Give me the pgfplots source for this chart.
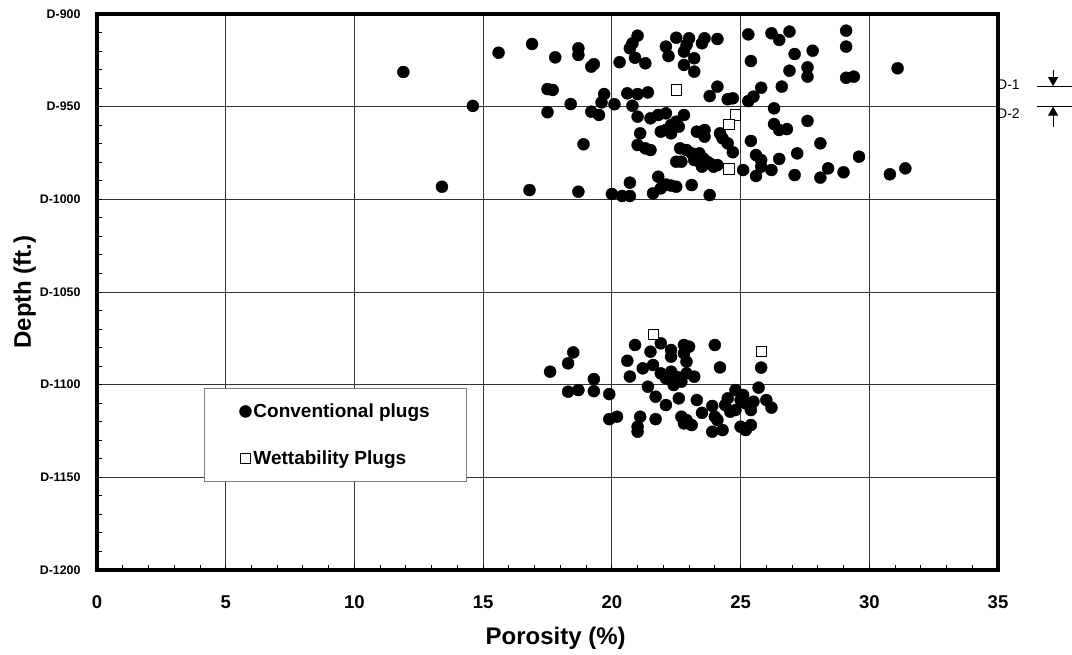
\documentclass[border=0pt]{standalone}
\usepackage{fontspec}
\setmainfont{Liberation Sans}
\usepackage{pgfplots}
\usepackage{pgfplotstable}
\pgfplotsset{compat=1.18}
\usetikzlibrary{arrows.meta}

\pgfplotstableread{
x y
11.9 931.3
14.6 949.6
13.4 993.2
15.6 920.9
16.9 916.2
17.8 923.4
17.5 940.5
17.7 941.0
17.5 953.0
16.8 995.0
18.7 918.5
18.7 922.1
19.3 927.1
19.2 928.4
20.3 926.0
21.0 911.7
20.8 915.8
20.7 918.5
20.9 923.6
21.3 926.6
18.4 948.6
19.7 943.2
19.6 947.7
20.1 948.7
19.2 952.7
19.5 954.5
20.6 942.8
21.0 943.2
21.4 942.3
20.8 949.5
21.0 955.4
21.1 964.4
21.0 970.7
21.3 972.5
18.9 970.3
18.7 995.9
20.0 997.1
20.7 991.0
20.4 998.2
20.7 998.2
22.5 912.8
23.0 913.1
22.9 916.7
22.8 920.3
23.6 913.1
23.5 915.8
24.1 913.5
22.1 917.6
22.2 922.7
23.2 923.9
23.2 931.1
22.8 927.5
23.8 944.3
24.1 939.2
24.5 946.0
21.5 956.3
21.8 954.5
22.1 953.6
21.9 963.5
22.1 962.6
22.3 959.9
22.3 964.4
22.6 960.8
22.5 958.1
22.8 954.5
23.3 963.5
23.6 962.6
23.6 966.2
24.2 964.4
24.3 967.1
24.5 969.8
21.5 973.4
22.65 972.5
22.9 973.4
23.1 975.2
23.3 977.0
23.4 975.2
23.55 977.9
23.7 979.7
23.8 980.6
23.95 982.4
24.1 981.5
23.4 979.7
23.5 982.4
23.2 978.8
22.5 979.7
22.7 979.7
21.8 987.8
21.9 994.1
22.1 992.0
22.3 992.6
22.5 993.2
23.1 992.3
23.8 997.7
21.6 996.8
25.3 911.0
26.2 910.4
26.5 914.0
26.9 909.5
29.1 909.0
29.1 917.6
27.1 921.6
27.8 919.8
25.4 925.4
26.9 930.6
27.6 928.8
27.6 933.8
29.1 934.4
29.4 933.8
31.1 929.3
25.8 939.8
26.6 939.2
25.3 947.0
25.5 944.6
24.7 945.5
26.3 950.9
26.3 959.4
26.5 962.6
26.8 962.1
27.6 957.7
25.4 968.5
28.1 969.8
24.7 974.6
25.6 976.1
25.8 978.8
25.8 982.4
26.5 978.2
27.2 975.2
29.6 977.0
25.1 984.2
25.6 987.4
26.2 984.2
27.1 986.9
28.1 988.3
28.4 983.3
29.0 985.4
30.8 986.5
31.4 983.3
17.6 1093.0
18.3 1088.5
18.5 1082.6
19.3 1097.0
18.3 1103.8
18.7 1102.9
19.3 1103.5
19.9 1105.1
19.9 1118.6
20.2 1117.3
21.1 1117.3
21.0 1122.7
21.0 1125.4
21.7 1118.6
20.6 1087.1
20.9 1078.6
20.7 1095.6
21.2 1091.2
21.5 1082.2
21.4 1101.1
21.7 1106.5
21.9 1077.7
22.3 1081.3
22.3 1084.9
22.8 1078.6
23.0 1079.5
22.8 1083.1
22.9 1087.6
24.0 1078.6
24.2 1090.7
21.6 1089.4
21.9 1093.9
22.3 1093.0
22.5 1095.7
22.9 1093.9
23.2 1095.7
22.7 1098.4
22.4 1100.2
22.1 1096.6
22.1 1111.0
22.6 1107.4
23.3 1108.3
22.7 1117.3
22.9 1119.1
23.1 1121.8
22.8 1120.9
23.5 1115.2
23.9 1125.4
24.3 1124.5
24.1 1119.1
24.0 1117.3
23.9 1111.5
24.4 1111.0
24.6 1114.6
24.5 1107.4
24.8 1102.9
25.0 1108.3
24.8 1113.7
25.1 1105.6
25.2 1110.1
25.4 1113.7
25.5 1109.2
25.0 1122.7
25.2 1124.5
25.4 1121.8
25.7 1101.6
25.8 1090.8
26.0 1108.3
26.2 1112.4
}\conv

\pgfplotstableread{
x y
22.5 941.0
24.8 954.5
24.55 959.5
24.55 983.6
21.6 1072.9
25.8 1082.2
}\wett

\begin{document}
\begin{tikzpicture}[x=1pt,y=1pt]
\begin{axis}[
  at={(0,0)}, anchor=south west,
  width=901pt, height=556pt, scale only axis,
  xmin=0, xmax=35, ymin=900, ymax=1200, y dir=reverse,
  xtick={0,5,10,15,20,25,30,35},
  xticklabels={0,5,10,15,20,25,30,35},
  ytick={900,950,1000,1050,1100,1150,1200},
  yticklabels={D-900,D-950,D-1000,D-1050,D-1100,D-1150,D-1200},
  minor x tick num=4, minor y tick num=4,
  tick align=inside, xtick pos=bottom, ytick pos=left,
  major tick length=5pt, minor tick length=5pt,
  every tick/.style={black, line width=0.9pt},
  grid=major,
  major grid style={black!80, line width=0.8pt},
  axis line style={line width=4pt, line join=miter},
  xticklabel style={font=\fontsize{18.5}{20}\selectfont\bfseries, yshift=-22pt},
  yticklabel style={font=\fontsize{12.4}{14}\selectfont\bfseries, xshift=-13pt},
  xlabel={Porosity (\%)}, ylabel={Depth (ft.)},
  every axis x label/.style={at={(axis description cs:0.509,-0.1237)}, anchor=center,
    font=\fontsize{24}{28}\selectfont\bfseries},
  every axis y label/.style={at={(axis description cs:-0.0802,0.5)}, anchor=center, rotate=90,
    font=\fontsize{24}{28}\selectfont\bfseries},
  clip=false, set layers,
  legend style={at={(axis cs:9.27,1127.2)}, anchor=center, draw=black!50,
    line width=1.2pt, fill=white, inner xsep=35pt, inner ysep=13pt,
    row sep=28pt, font=\fontsize{19}{22}\selectfont\bfseries,
    /tikz/every even column/.style={column sep=0pt}},
  legend cell align=left,
  legend image code/.code={\draw[#1, mark repeat=1] plot coordinates {(0pt,0pt)};},
  legend entries={Conventional plugs, Wettability Plugs},
]
\addplot[only marks, mark=*, mark size=6.0pt,
  mark options={fill=black, draw=black, line width=0.4pt}] table {\conv};
\addplot[only marks, mark=square*, mark size=5.1pt,
  mark options={fill=white, draw=black, line width=0.8pt}] table {\wett};

\begin{pgfonlayer}{axis background}
\node[anchor=west, font=\fontsize{14}{16}\selectfont, inner sep=0pt] at (axis cs:34.96,938.3) {D-1};
\node[anchor=west, font=\fontsize{14}{16}\selectfont, inner sep=0pt] at (axis cs:34.96,953.6) {D-2};
\end{pgfonlayer}
\draw[line width=1pt] (axis cs:36.52,938.9) -- (axis cs:37.88,938.9);
\draw[line width=1pt] (axis cs:36.52,950.0) -- (axis cs:37.88,950.0);
\draw[line width=1pt, -{Triangle[width=10pt,length=9pt]}] (axis cs:37.14,930.2) -- (axis cs:37.14,938.9);
\draw[line width=1pt, -{Triangle[width=10pt,length=9pt]}] (axis cs:37.14,961.0) -- (axis cs:37.14,950.0);
\end{axis}
\pgfresetboundingbox
\path (-97,-85) rectangle (975,570);
\end{tikzpicture}
\end{document}
